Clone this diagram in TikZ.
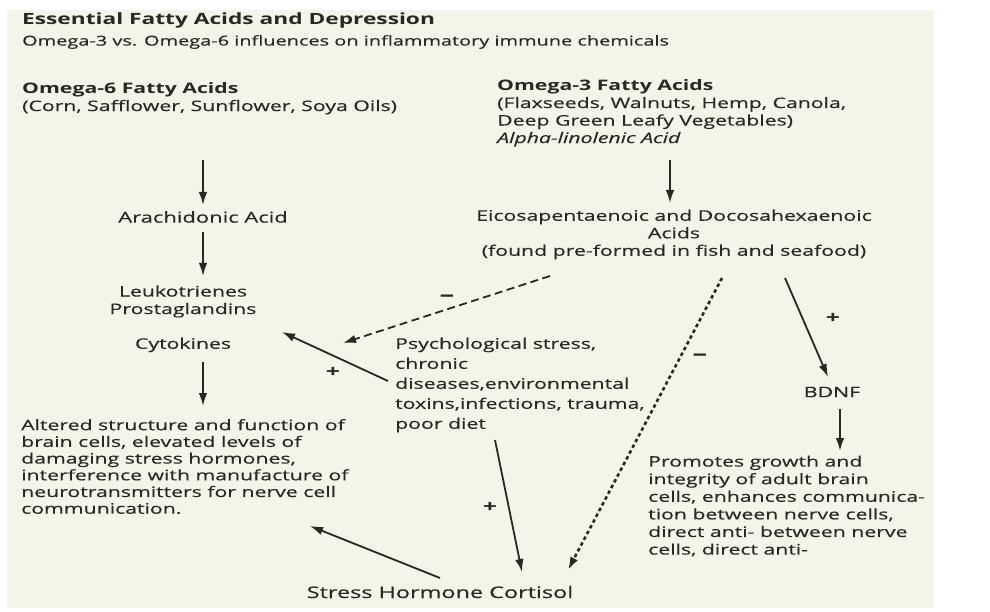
\documentclass[tikz,border=0pt]{standalone}
\usepackage{fontspec}
\setmainfont{Open Sans}[FakeStretch=1.465, UprightFeatures={FakeBold=0.35}, ItalicFeatures={FakeBold=0.35}]
\usetikzlibrary{arrows.meta,calc}

\definecolor{paper}{RGB}{244,245,233}
\definecolor{ink}{RGB}{40,40,37}

\tikzset{
  lbl/.style={inner sep=0pt, text=ink, font=\fontsize{14.5}{17.5}\selectfont},
  blk/.style={lbl, align=left},
  arr/.style={-{Latex[length=13pt,width=8.5pt]}, line width=1.8pt, draw=ink},
  dasharr/.style={arr, dash pattern=on 8pt off 4.5pt},
  dotarr/.style={arr, line width=2.6pt, dash pattern=on 3.5pt off 3pt},
  sign/.style={lbl, font=\fontsize{17}{17}\selectfont\bfseries}
}

\begin{document}
\begin{tikzpicture}[x=1pt,y=-1pt]
	
	% page and paper
	\useasboundingbox[fill=white] (0,0) rectangle (990,612);
	\fill[paper] (7,10) rectangle (934,608);
	
	% Titles
	\node[lbl, anchor=west, font=\fontsize{15.5}{17.5}\selectfont\bfseries] (title) at (22,20) {Essential Fatty Acids and Depression};
	\node[lbl, anchor=west, font=\fontsize{13.6}{17.5}\selectfont] (sub) at (22,42) {Omega-3 vs. Omega-6 influences on inflammatory immune chemicals};
	
	% Omega-6 side
	\node[blk, anchor=west] (o6) at (22,98.5) {\textbf{Omega-6 Fatty Acids}\\(Corn, Safflower, Sunflower, Soya Oils)};
	\node[lbl, font=\fontsize{15}{17.5}\selectfont] (arach) at (203,217) {Arachidonic Acid};
	\node[lbl, align=center] (leuko) at (183,301.5) {Leukotrienes\\Prostaglandins};
	\node[lbl] (cyto) at (183,345) {Cytokines};
	\node[blk, anchor=west, font=\fontsize{14.5}{16.7}\selectfont] (altered) at (21,466.5) {Altered structure and function of\\brain cells, elevated levels of\\damaging stress hormones,\\interference with manufacture of\\neurotransmitters for nerve cell\\communication.};
	
	% Omega-3 side
	\node[blk, anchor=west] (o3) at (497,113) {\textbf{Omega-3 Fatty Acids}\\(Flaxseeds, Walnuts, Hemp, Canola,\\Deep Green Leafy Vegetables)\\\textit{Alpha-linolenic Acid}};
	\node[lbl, align=center] (eicosa) at (674,234.5) {Eicosapentaenoic and Docosahexaenoic\\Acids\\(found pre-formed in fish and seafood)};
	\node[lbl] (bdnf) at (832,392) {BDNF};
	\node[blk, anchor=west, font=\fontsize{14.5}{17.6}\selectfont] (promo) at (648,506) {Promotes growth and\\integrity of adult brain\\cells, enhances communica-\\tion between nerve cells,\\direct anti- between nerve\\cells, direct anti-};
	
	% Stress
	\node[blk, anchor=west, font=\fontsize{14.5}{20}\selectfont] (psych) at (395,385) {Psychological stress,\\chronic\\diseases,environmental\\toxins,infections, trauma,\\poor diet};
	\node[lbl, font=\fontsize{16}{17.5}\selectfont] (cortisol) at (440,592) {Stress Hormone Cortisol};
	
	% Vertical arrows
	\draw[arr] ([shift={(181,61.5)}]o6.west) -- ([shift={(0,-12)}]arach.center);
	\draw[arr] ([shift={(0,15)}]arach.center) -- ([shift={(20,-25.5)}]leuko.center);
	\draw[arr] ([shift={(20,17)}]cyto.center) -- ([shift={(182,-60.5)}]altered.west);
	\draw[arr] ([shift={(173,47)}]o3.west) -- ([shift={(-4,-31.5)}]eicosa.center);
	\draw[arr] ([shift={(8,17)}]bdnf.center) -- ([shift={(192,-55)}]promo.west);
	
	% Slanted arrows
	\draw[dasharr] ([shift={(-124,41.5)}]eicosa.center) -- ([shift={(-52,-42)}]psych.west);
	\draw[arr] ([shift={(-7,-4)}]psych.west) -- ([shift={(99,30.5)}]leuko.center);
	\draw[arr] ([shift={(100,55)}]psych.west) -- ([shift={(82,-20)}]cortisol.center);
	\draw[dotarr] ([shift={(48,43.5)}]eicosa.center) -- ([shift={(128,-22)}]cortisol.center);
	\draw[arr] ([shift={(111,43.5)}]eicosa.center) -- ([shift={(-4,-15)}]bdnf.center);
	\draw[arr] ([shift={(0,-14)}]cortisol.center) -- ([shift={(289,59.5)}]altered.west);
	
	% Signs
	\node[sign, font=\fontsize{20}{20}\selectfont\bfseries] (m1) at (447,298) {--};
	\node[sign] (p1) at (333,372) {+};
	\node[sign] (p2) at (490,507) {+};
	\node[sign, font=\fontsize{20}{20}\selectfont\bfseries] (m2) at (700,357) {--};
	\node[sign] (p3) at (833,318) {+};
	
\end{tikzpicture}
\end{document}
